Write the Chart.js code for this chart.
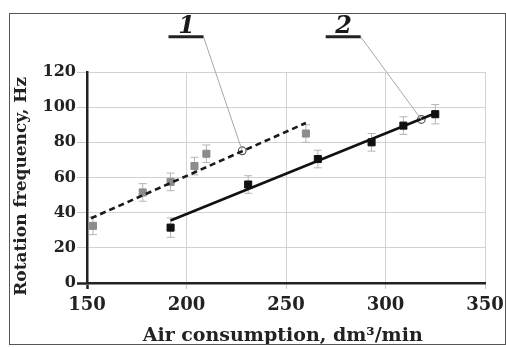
<!DOCTYPE html>
<html>
<head>
<meta charset="utf-8">
<script src="https://cdn.jsdelivr.net/npm/chart.js@4.4.1/dist/chart.umd.min.js"></script>
<style>
  body { margin: 0; background: #fff; }
  #wrap { position: relative; width: 506px; height: 347px; }
</style>
</head>
<body>
<div id="wrap"><canvas id="rotChart" width="506" height="347"></canvas></div>
<script>
// measured points (gray = set 1, black = set 2)
const air1 = [153, 178, 192, 204, 210, 260];
const freq1 = [32.5, 51.5, 57.5, 66.5, 73.5, 85];
const err1 = [5, 5, 5, 5, 5, 5];

const air2 = [192, 231, 266, 293, 309, 325];
const freq2 = [31.5, 56, 70.5, 80, 89.5, 96];
const err2 = [5.5, 5, 5, 5, 5, 5.5];

// trend lines
const trendX1 = [152, 260];
const trendY1 = [36.8, 91];
const trendX2 = [192, 325];
const trendY2 = [35.5, 96.5];

// callout markers on the trend lines and their labels
const calloutNames = ["1", "2"];
const calloutX = [228, 318];
const calloutY = [75.2, 93];
const labelX = [200, 279];
const labelY = [140, 140];

const xTicks = [150, 200, 250, 300, 350];
const yTicks = [0, 20, 40, 60, 80, 100, 120];

const serif = "'DejaVu Serif', 'Liberation Serif', serif";

const toPoints = (xs, ys) => xs.map((x, i) => ({ x: x, y: ys[i] }));

// error bars, drawn under the markers
const errorBars = {
  id: "errorBars",
  beforeDatasetsDraw(chart) {
    const { ctx, scales: { x, y } } = chart;
    const sets = [[air1, freq1, err1], [air2, freq2, err2]];
    ctx.save();
    ctx.strokeStyle = "#b5b5b5";
    ctx.lineWidth = 1;
    sets.forEach(([xs, ys, es]) => {
      xs.forEach((v, i) => {
        const px = x.getPixelForValue(v);
        const top = y.getPixelForValue(ys[i] + es[i]);
        const bot = y.getPixelForValue(ys[i] - es[i]);
        ctx.beginPath();
        ctx.moveTo(px, top); ctx.lineTo(px, bot);
        ctx.moveTo(px - 4, top); ctx.lineTo(px + 4, top);
        ctx.moveTo(px - 4, bot); ctx.lineTo(px + 4, bot);
        ctx.stroke();
      });
    });
    ctx.restore();
  }
};

// "1" / "2" labels with underline and leader line
const callouts = {
  id: "callouts",
  afterDraw(chart) {
    const { ctx, scales: { x, y } } = chart;
    ctx.save();
    calloutNames.forEach((name, i) => {
      const lx = x.getPixelForValue(labelX[i]);
      const ly = y.getPixelForValue(labelY[i]);
      const tx = x.getPixelForValue(calloutX[i]);
      const ty = y.getPixelForValue(calloutY[i]);
      // leader
      ctx.strokeStyle = "#a8a8a8";
      ctx.lineWidth = 1;
      ctx.beginPath();
      ctx.moveTo(lx + 17, ly);
      ctx.lineTo(tx, ty);
      ctx.stroke();
      // underline
      ctx.strokeStyle = "#222";
      ctx.lineWidth = 3;
      ctx.beginPath();
      ctx.moveTo(lx - 18, ly);
      ctx.lineTo(lx + 17, ly);
      ctx.stroke();
      // number
      ctx.fillStyle = "#1a1a1a";
      ctx.font = "italic bold 24px " + serif;
      ctx.textAlign = "center";
      ctx.textBaseline = "alphabetic";
      ctx.fillText(name, lx, ly - 4);
    });
    // outer frame
    ctx.strokeStyle = "#555";
    ctx.lineWidth = 1;
    ctx.strokeRect(9.5, 13.5, 496, 331);
    ctx.restore();
  }
};

new Chart(document.getElementById("rotChart"), {
  type: "scatter",
  data: {
    datasets: [
      {
        label: "1 trend",
        type: "line",
        data: toPoints(trendX1, trendY1),
        borderColor: "#1a1a1a",
        borderWidth: 2.6,
        borderDash: [6, 4],
        pointRadius: 0,
        fill: false
      },
      {
        label: "2 trend",
        type: "line",
        data: toPoints(trendX2, trendY2),
        borderColor: "#111",
        borderWidth: 2.6,
        pointRadius: 0,
        fill: false
      },
      {
        label: "1",
        data: toPoints(air1, freq1),
        pointStyle: "rect",
        pointRadius: 5,
        backgroundColor: "#8c8c8c",
        borderColor: "#8c8c8c",
        borderWidth: 1
      },
      {
        label: "2",
        data: toPoints(air2, freq2),
        pointStyle: "rect",
        pointRadius: 5,
        backgroundColor: "#111",
        borderColor: "#111",
        borderWidth: 1
      },
      {
        label: "callouts",
        data: toPoints(calloutX, calloutY),
        pointRadius: 3.8,
        backgroundColor: "#fff",
        borderColor: "#555",
        borderWidth: 1.2
      }
    ]
  },
  options: {
    responsive: false,
    animation: false,
    layout: { padding: { left: 0, top: 72, right: 21, bottom: 0 } },
    plugins: { legend: { display: false }, tooltip: { enabled: false } },
    scales: {
      x: {
        type: "linear",
        min: 150,
        max: 350,
        afterBuildTicks: (s) => { s.ticks = xTicks.map((v) => ({ value: v })); },
        afterFit: (s) => { s.height = 64; s.paddingRight = 20; s.paddingLeft = 20; },
        ticks: { font: { family: serif, size: 18, weight: "bold" }, color: "#222", padding: 6, maxRotation: 0 },
        grid: {
          color: "#d2d2d2",
          lineWidth: 1,
          tickLength: 6,
          tickColor: (c) => (c.tick && c.tick.value === 150 ? "#222" : "#c8c8c8"),
          tickWidth: (c) => (c.tick && c.tick.value === 150 ? 2.5 : 1)
        },
        border: { color: "#222", width: 2.5 },
        title: {
          display: true,
          text: "Air consumption, dm\u00b3/min\u00a0",
          font: { family: serif, size: 19, weight: "bold" },
          color: "#222",
          padding: { top: 0, bottom: 0 }
        }
      },
      y: {
        type: "linear",
        min: 0,
        max: 120,
        afterBuildTicks: (s) => { s.ticks = yTicks.map((v) => ({ value: v })); },
        afterFit: (s) => { s.width = 87; },
        ticks: { font: { family: serif, size: 16, weight: "bold" }, color: "#222", padding: 1 },
        grid: {
          color: "#d2d2d2",
          lineWidth: 1,
          tickLength: 10,
          tickColor: (c) => (c.tick && c.tick.value === 0 ? "#222" : "#c8c8c8"),
          tickWidth: (c) => (c.tick && c.tick.value === 0 ? 2.5 : 1)
        },
        border: { color: "#222", width: 2.5 },
        title: {
          display: true,
          text: "Rotation frequency, Hz\u00a0\u00a0\u00a0",
          font: { family: serif, size: 17, weight: "bold" },
          color: "#222",
          padding: { top: 11, bottom: 0 }
        }
      }
    }
  },
  plugins: [errorBars, callouts]
});
</script>
</body>
</html>
